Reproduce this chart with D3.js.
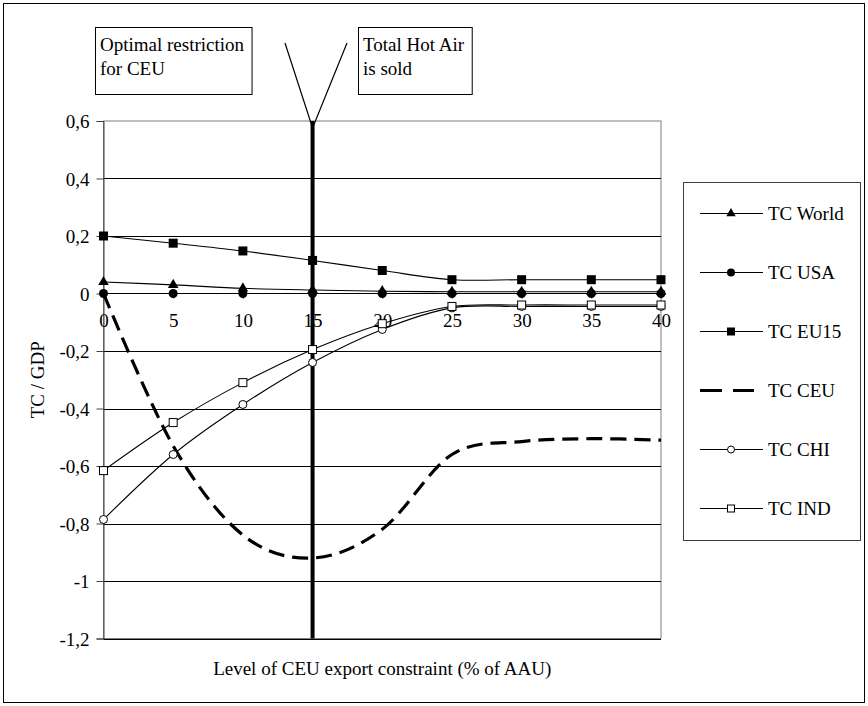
<!DOCTYPE html>
<html>
<head>
<meta charset="utf-8">
<script src="https://cdn.jsdelivr.net/npm/d3@7"></script>
<style>
  body { margin: 0; background: #fff; }
</style>
</head>
<body>
<svg id="chart" width="868" height="706" font-family="'Liberation Serif', 'Tinos', 'Times New Roman', 'DejaVu Serif', serif" font-size="19"></svg>
<script>
// data
const xValues = [0, 5, 10, 15, 20, 25, 30, 35, 40];
const tcWorld = [0.04, 0.03, 0.018, 0.012, 0.008, 0.006, 0.006, 0.006, 0.006];
const tcUSA   = [0, 0, 0, 0, 0, 0, 0, 0, 0];
const tcEU15  = [0.2, 0.175, 0.148, 0.115, 0.08, 0.048, 0.048, 0.048, 0.048];
const tcCEU   = [0, -0.53, -0.84, -0.92, -0.82, -0.56, -0.515, -0.505, -0.51];
const tcCHI   = [-0.786, -0.56, -0.386, -0.24, -0.125, -0.05, -0.045, -0.045, -0.045];
const tcIND   = [-0.616, -0.449, -0.31, -0.195, -0.105, -0.045, -0.04, -0.04, -0.04];
const yTicks = [0.6, 0.4, 0.2, 0, -0.2, -0.4, -0.6, -0.8, -1, -1.2];
const seriesNames = ["TC World", "TC USA", "TC EU15", "TC CEU", "TC CHI", "TC IND"];
const markers = ["triangle", "circle", "square", "none", "circleOpen", "squareOpen"];
const seriesValues = [tcWorld, tcUSA, tcEU15, tcCEU, tcCHI, tcIND];
const optimalX = 15;

const svg = d3.select("#chart");
const pLeft = 103.5, pRight = 661, pTop = 121, pBottom = 638.5;

const x = d3.scaleLinear().domain([0, 40]).range([pLeft, pRight]);
const y = d3.scaleLinear().domain([-1.2, 0.6]).range([pBottom, pTop]);

// outer frame
svg.append("rect").attr("x", 3.5).attr("y", 3.5).attr("width", 861).attr("height", 699)
  .attr("fill", "none").attr("stroke", "#000").attr("stroke-width", 1);

// plot frame + grid
svg.append("rect").attr("x", pLeft).attr("y", pTop).attr("width", pRight - pLeft).attr("height", pBottom - pTop)
  .attr("fill", "none").attr("stroke", "#808080");
svg.append("g").selectAll("line").data(yTicks.filter(d => d !== 0 && d !== 0.6)).join("line")
  .attr("x1", pLeft).attr("x2", pRight)
  .attr("y1", d => Math.round(y(d)) + 0.5).attr("y2", d => Math.round(y(d)) + 0.5)
  .attr("stroke", "#000");

// y axis
const yAxis = d3.axisLeft(y).tickValues(yTicks).tickSize(7).tickPadding(7)
  .tickFormat(d => String(d).replace(".", ","));
const gy = svg.append("g").attr("transform", `translate(${pLeft},0)`).call(yAxis)
  .attr("font-family", null).attr("font-size", null);
gy.select(".domain").attr("stroke", "#404040");
gy.selectAll(".tick line").attr("stroke", "#404040");
gy.selectAll("text").attr("dy", "0.35em");

// x axis at zero
const xAxis = d3.axisBottom(x).tickValues(xValues).tickSize(5).tickPadding(15);
const gx = svg.append("g").attr("transform", `translate(0,${Math.round(y(0)) + 0.5})`).call(xAxis)
  .attr("font-family", null).attr("font-size", null);
gx.select(".domain").attr("stroke", "#000").attr("d", `M${pLeft},0H${pRight}`);
gx.selectAll(".tick line").attr("stroke", "#000");

// series lines
const line = d3.line().x((d, i) => x(xValues[i])).y(d => y(d)).curve(d3.curveCardinal.tension(0));
seriesValues.forEach((vals, k) => {
  const p = svg.append("path").attr("d", line(vals)).attr("fill", "none").attr("stroke", "#000");
  if (markers[k] === "none") {
    p.attr("stroke-width", 3.2).attr("stroke-dasharray", "16,8");
  } else {
    p.attr("stroke-width", 1.1);
  }
});

function drawMarker(g, type, cx, cy, s) {
  if (type === "triangle") {
    g.append("path").attr("d", d3.symbol(d3.symbolTriangle, s * s * 0.6)()).attr("transform", `translate(${cx},${cy})`).attr("fill", "#000");
  } else if (type === "circle") {
    g.append("circle").attr("cx", cx).attr("cy", cy).attr("r", s / 2).attr("fill", "#000");
  } else if (type === "square") {
    g.append("rect").attr("x", cx - s / 2).attr("y", cy - s / 2).attr("width", s).attr("height", s).attr("fill", "#000");
  } else if (type === "circleOpen") {
    g.append("circle").attr("cx", cx).attr("cy", cy).attr("r", s / 2 - 0.5).attr("fill", "#fff").attr("stroke", "#000");
  } else if (type === "squareOpen") {
    g.append("rect").attr("x", cx - s / 2 + 0.5).attr("y", cy - s / 2 + 0.5).attr("width", s - 1).attr("height", s - 1).attr("fill", "#fff").attr("stroke", "#000");
  }
}

// optimal restriction vertical line
svg.append("line").attr("x1", x(optimalX)).attr("x2", x(optimalX)).attr("y1", pTop).attr("y2", pBottom)
  .attr("stroke", "#000").attr("stroke-width", 4);

// markers
const mg = svg.append("g");
seriesValues.forEach((vals, k) => {
  if (markers[k] === "none") return;
  vals.forEach((v, i) => drawMarker(mg, markers[k], x(xValues[i]), y(v), 9));
});

// axis titles
svg.append("text").attr("transform", `translate(44,${(pTop + pBottom) / 2}) rotate(-90)`)
  .attr("text-anchor", "middle").attr("fill", "#000").text("TC / GDP");
svg.append("text").attr("x", (pLeft + pRight) / 2).attr("y", 675).attr("text-anchor", "middle")
  .attr("fill", "#000").text("Level of CEU export constraint (% of AAU)");

// callouts
function callout(x0, lines) {
  const g = svg.append("g");
  const t = g.append("text").attr("fill", "#000");
  lines.forEach((s, i) => t.append("tspan").attr("x", x0 + 5).attr("y", 51 + i * 24).text(s));
  const w = t.node().getBBox().width;
  g.insert("rect", "text").attr("x", x0 + 0.5).attr("y", 27.5).attr("width", w + 12).attr("height", 67)
    .attr("fill", "#fff").attr("stroke", "#000");
}
callout(95, ["Optimal restriction", "for CEU"]);
callout(358, ["Total Hot Air", "is sold"]);
svg.append("path").attr("d", `M285,43L${x(optimalX)},128L347,43`).attr("fill", "none").attr("stroke", "#000").attr("stroke-width", 1.2);

// legend
const legendTop = 182, legendBottom = 540, legendLeft = 683, legendRight = 860;
svg.append("rect").attr("x", legendLeft + 0.5).attr("y", legendTop + 0.5)
  .attr("width", legendRight - legendLeft).attr("height", legendBottom - legendTop)
  .attr("fill", "#fff").attr("stroke", "#404040");
const ly = d3.scalePoint().domain(seriesNames).range([213.5, 508.5]);
seriesNames.forEach((name, k) => {
  const cy = ly(name);
  const g = svg.append("g");
  if (markers[k] === "none") {
    g.append("line").attr("x1", 700).attr("x2", 754).attr("y1", cy).attr("y2", cy)
      .attr("stroke", "#000").attr("stroke-width", 3.2).attr("stroke-dasharray", "22,11");
  } else {
    g.append("line").attr("x1", 700).attr("x2", 763).attr("y1", cy).attr("y2", cy).attr("stroke", "#000");
    drawMarker(g, markers[k], 731, cy, 8);
  }
  g.append("text").attr("x", 768).attr("y", cy).attr("dy", "0.35em").attr("fill", "#000").text(name);
});
</script>
</body>
</html>
